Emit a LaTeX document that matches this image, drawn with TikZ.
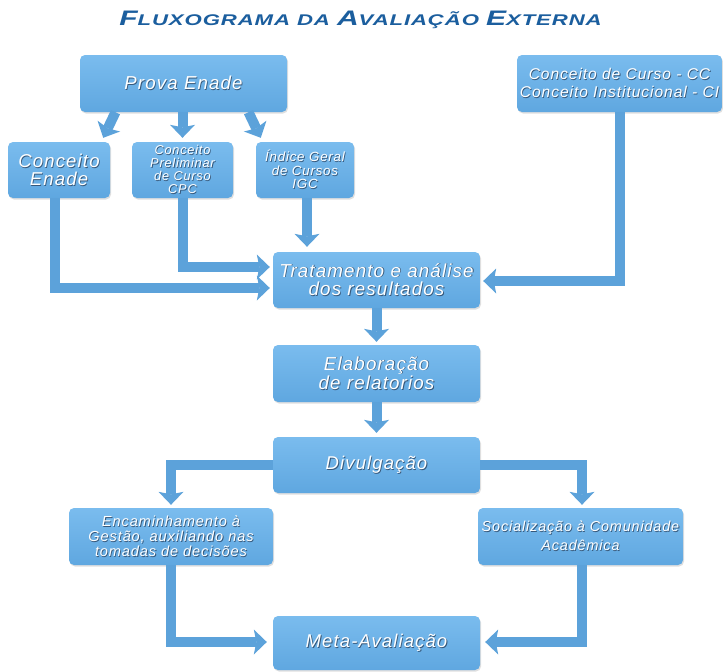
\documentclass[tikz,border=0pt]{standalone}
\usepackage{fontspec}
\setmainfont{Liberation Sans}
\newfontfamily\bfont[LetterSpace=6]{Liberation Sans}
\newfontfamily\tfont[LetterSpace=4]{Liberation Sans}
\usetikzlibrary{arrows.meta,shadows,calc}
\definecolor{boxtop}{HTML}{7ABCEE}
\definecolor{boxbot}{HTML}{5FA7E0}
\definecolor{arrowc}{HTML}{5CA2DA}
\definecolor{titlec}{HTML}{1B5E9E}
\definecolor{shc}{HTML}{37587A}
\newcommand\sh[1]{\leavevmode\rlap{\kern0.8pt\raisebox{-0.8pt}{\textcolor{shc}{#1}}}#1}
\newcommand\tbig[1]{{\fontsize{21}{21}\selectfont #1}}
\newcommand\tsml[1]{{\fontsize{15.5}{15.5}\selectfont #1}}
\begin{document}
\begin{tikzpicture}[x=1pt,y=-1pt,
  bx/.style={rounded corners=5pt, top color=boxtop, bottom color=boxbot, draw=none,
    text=white, align=center, inner sep=0pt,
    drop shadow={opacity=0.25, shadow xshift=1pt, shadow yshift=-1.5pt}},
  conn/.style={draw=arrowc, line width=10pt, line join=miter,
    -{Stealth[length=13pt,width=25pt,inset=2.5pt,line width=0pt]}},
  fsz/.style 2 args={font=\bfont\itshape\fontsize{#1}{#2}\selectfont}]
\fill[white] (0,0) rectangle (723,672);
\useasboundingbox (0,0) rectangle (723,672);

\node[font=\tfont\bfseries\itshape, text=titlec] (title) at (360.5,20)
  {\scalebox{1.43}[1]{\tbig{F}\tsml{LUXOGRAMA DA }\tbig{A}\tsml{VALIAÇÃO }\tbig{E}\tsml{XTERNA}}};

\node[bx, fsz={18.7}{20}, minimum width=207pt, minimum height=57pt] (prova) at (183.5,83.5) {\sh{Prova Enade}};
\node[bx, fsz={15.6}{18.5}, minimum width=205pt, minimum height=57pt] (cc) at (619.5,83.5)
  {\sh{Conceito de Curso - CC}\\\sh{Conceito Institucional - CI}};
\node[bx, fsz={18.6}{18}, minimum width=102pt, minimum height=56pt] (ce) at (59,170) {\sh{Conceito}\\\sh{Enade}};
\node[bx, fsz={12.8}{13}, minimum width=101pt, minimum height=56pt] (cpc) at (182.5,170)
  {\sh{Conceito}\\\sh{Preliminar}\\\sh{de Curso}\\\sh{CPC}};
\node[bx, fsz={13.3}{13.5}, minimum width=98pt, minimum height=56pt] (igc) at (305,170)
  {\sh{Índice Geral}\\\sh{de Cursos}\\\sh{IGC}};
\node[bx, fsz={18.8}{18.5}, minimum width=207pt, minimum height=56pt] (trat) at (376.5,280)
  {\sh{Tratamento e análise}\\\sh{dos resultados}};
\node[bx, fsz={18.8}{19.5}, minimum width=207pt, minimum height=57pt] (elab) at (376.5,373.5)
  {\sh{Elaboração}\\\sh{de relatorios}};
\node[bx, fsz={18.5}{19}, minimum width=207pt, minimum height=56pt] (div) at (376.5,465) {\sh{Divulgação}};
\node[bx, fsz={14.6}{15}, minimum width=204pt, minimum height=57pt] (enc) at (171,536.5)
  {\sh{Encaminhamento à}\\\sh{Gestão, auxiliando nas}\\\sh{tomadas de decisões}};
\node[bx, fsz={14.4}{19}, minimum width=205pt, minimum height=57pt] (soc) at (580.5,536.5)
  {\sh{Socialização à Comunidade}\\\sh{Acadêmica}};
\node[bx, fsz={18.5}{20}, minimum width=207pt, minimum height=54pt] (meta) at (376.5,643) {\sh{Meta-Avaliação}};

\draw[conn] ([xshift=-68pt]prova.south) -- ([xshift=-7pt,yshift=4pt]ce.north east);
\draw[conn] (prova.south -| cpc.north) -- ([yshift=4pt]cpc.north);
\draw[conn] ([xshift=65pt]prova.south) -- ([xshift=5pt,yshift=4pt]igc.north west);

\draw[conn] ([xshift=-4pt]ce.south) |- ([xshift=-3pt,yshift=-8pt]trat.west);
\draw[conn] (cpc.south) |- ([xshift=-3pt,yshift=13pt]trat.west);
\draw[conn] ([xshift=2pt]igc.south) -- ($(igc.south |- trat.north)+(2,-5)$);
\draw[conn] (cc.south) |- ([xshift=3pt,yshift=-1pt]trat.east);

\draw[conn] (trat.south) -- ([yshift=3pt]elab.north);
\draw[conn] (elab.south) -- ([yshift=4pt]div.north);
\draw[conn] (div.west) -| ([yshift=3pt]enc.north);
\draw[conn] (div.east) -| ([xshift=1.5pt,yshift=3pt]soc.north);
\draw[conn] (enc.south) |- ([xshift=-6pt,yshift=1pt]meta.west);
\draw[conn] ([xshift=1pt]soc.south) |- ([xshift=5pt,yshift=1pt]meta.east);
\end{tikzpicture}
\end{document}
